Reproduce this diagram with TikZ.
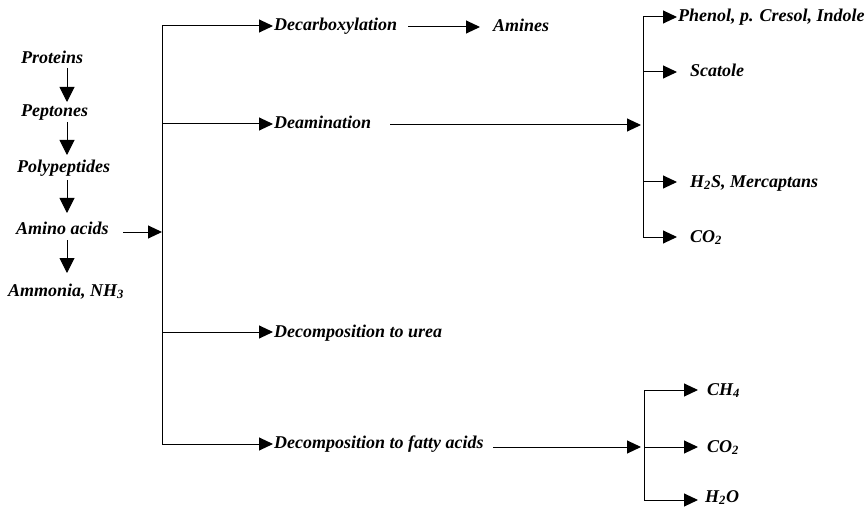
\documentclass[tikz,border=0pt]{standalone}
\usepackage{fontspec}
\setmainfont{Liberation Serif}
\usetikzlibrary{arrows.meta}
\begin{document}
\begin{tikzpicture}[x=1pt,y=-1pt,
  lab/.style={font=\fontsize{18}{20}\selectfont\bfseries\itshape, anchor=base west, inner sep=0pt},
  arr/.style={line width=1pt, -{Triangle[length=14pt,width=13pt]}},
  varr/.style={line width=1pt, -{Triangle[length=15pt,width=15pt]}},
  ln/.style={line width=1pt}]
\useasboundingbox (0,0) rectangle (868,508);
% left chain
\node[lab] (prot) at (21,64) {Proteins};
\node[lab] (pep) at (21,117) {Peptones};
\node[lab] (poly) at (17,172) {Polypeptides};
\node[lab] (amino) at (16,234) {Amino acids};
\node[lab] (ammo) at (8,296) {Ammonia, NH\textsubscript{3}};
\coordinate (c1) at (67,68); \coordinate (c2) at (67,102);
\coordinate (c3) at (67,122); \coordinate (c4) at (67,155);
\coordinate (c5) at (67,180); \coordinate (c6) at (67,213);
\coordinate (c7) at (67,240); \coordinate (c8) at (67,273);
\draw[varr] (c1) -- (c2);
\draw[varr] (c3) -- (c4);
\draw[varr] (c5) -- (c6);
\draw[varr] (c7) -- (c8);
% trunk
\coordinate (as) at (123,232);
\coordinate (ae) at (162,232);
\coordinate (t1) at (162,26);
\coordinate (t2) at (162,124);
\coordinate (t3) at (162,332);
\coordinate (t4) at (162,444);
\draw[arr] (as) -- (ae);
\draw[ln] (t1) -- (t4);
\node[lab] (decarb) at (274,31) {Decarboxylation};
\node[lab] (deam) at (274,129) {Deamination};
\node[lab] (urea) at (274,337) {Decomposition to urea};
\node[lab] (fatty) at (274,448) {Decomposition to fatty acids};
\draw[arr] (t1) -- (273,26);
\draw[arr] (t2) -- (273,124);
\draw[arr] (t3) -- (273,332);
\draw[arr] (t4) -- (273,444);
% amines
\node[lab] (amines) at (493,32) {Amines};
\coordinate (m1) at (408,27); \coordinate (m2) at (480,27);
\draw[arr] (m1) -- (m2);
% deamination products
\coordinate (d1) at (390,125); \coordinate (d2) at (641,125);
\draw[arr] (d1) -- (d2);
\coordinate (r1) at (643,17); \coordinate (r2) at (643,72);
\coordinate (r3) at (643,182); \coordinate (r4) at (643,237);
\draw[ln] (r1) -- (r4);
\node[lab] (phenol) at (678,22) {Phenol, p. Cresol, Indole};
\node[lab] (scat) at (690,77) {Scatole};
\node[lab] (hs) at (690,187) {H\textsubscript{2}S, Mercaptans};
\node[lab] (coa) at (690,242) {CO\textsubscript{2}};
\draw[arr] (r1) -- (677,17);
\draw[arr] (r2) -- (677,72);
\draw[arr] (r3) -- (677,182);
\draw[arr] (r4) -- (677,237);
% fatty acid products
\coordinate (f1) at (493,447); \coordinate (f2) at (641,447);
\draw[arr] (f1) -- (f2);
\coordinate (s1) at (644,390); \coordinate (s2) at (644,447); \coordinate (s3) at (644,500);
\draw[ln] (s1) -- (s3);
\node[lab] (ch) at (707,395) {CH\textsubscript{4}};
\node[lab] (cob) at (707,452) {CO\textsubscript{2}};
\node[lab] (ho) at (705,502) {H\textsubscript{2}O};
\draw[arr] (s1) -- (698,390);
\draw[arr] (s2) -- (698,447);
\draw[arr] (s3) -- (698,500);
\end{tikzpicture}
\end{document}
